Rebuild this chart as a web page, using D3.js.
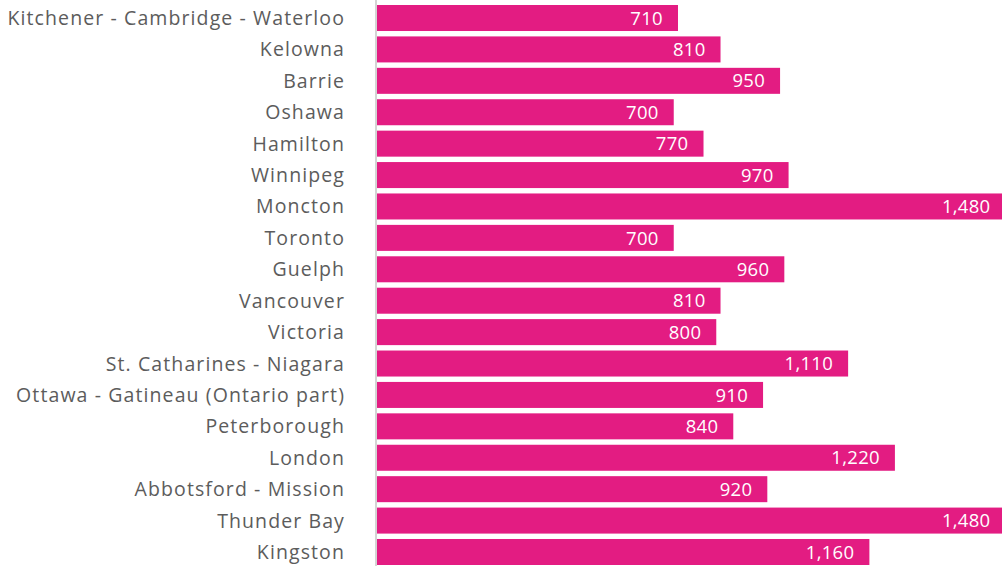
<!DOCTYPE html>
<html>
<head>
<meta charset="utf-8">
<script src="https://cdn.jsdelivr.net/npm/d3@7"></script>
<style>
  body { margin: 0; background: #fff; }
  text { font-family: "Open Sans", sans-serif; }
</style>
</head>
<body>
<div id="chart"></div>
<script>
const cities = [
  "Kitchener - Cambridge - Waterloo", "Kelowna", "Barrie", "Oshawa", "Hamilton",
  "Winnipeg", "Moncton", "Toronto", "Guelph", "Vancouver", "Victoria",
  "St. Catharines - Niagara", "Ottawa - Gatineau (Ontario part)", "Peterborough",
  "London", "Abbotsford - Mission", "Thunder Bay", "Kingston"
];
const values = [710, 810, 950, 700, 770, 970, 1480, 700, 960, 810, 800, 1110, 910, 840, 1220, 920, 1480, 1160];

const width = 1002, height = 566;
const left = 376;

const svg = d3.select("#chart").append("svg")
  .attr("width", width)
  .attr("height", height);

// widest bars run slightly past the right edge
const x = d3.scaleLinear().domain([0, 1480]).range([left, 1005.5]);
const y = d3.scaleBand().domain(cities).range([2.3, 567.7])
  .paddingInner(0.172).paddingOuter(0.086);

const fmt = d3.format(",");

svg.selectAll("rect.bar")
  .data(values)
  .join("rect")
  .attr("class", "bar")
  .attr("x", x(0))
  .attr("y", (d, i) => y(cities[i]))
  .attr("width", d => x(d) - x(0))
  .attr("height", y.bandwidth())
  .attr("fill", "#e31c82");

svg.append("line")
  .attr("x1", left).attr("x2", left)
  .attr("y1", 0).attr("y2", height)
  .attr("stroke", "#d4d4d4")
  .attr("stroke-width", 2);

svg.selectAll("text.city")
  .data(cities)
  .join("text")
  .attr("class", "city")
  .attr("x", 345)
  .attr("y", d => y(d) + y.bandwidth() / 2)
  .attr("dy", "0.36em")
  .attr("text-anchor", "end")
  .attr("fill", "#5c5c5c")
  .style("font-size", "19.5px")
  .style("letter-spacing", "1.1px")
  .text(d => d);

svg.selectAll("text.val")
  .data(values)
  .join("text")
  .attr("class", "val")
  .attr("x", d => x(d) - 15)
  .attr("y", (d, i) => y(cities[i]) + y.bandwidth() / 2)
  .attr("dy", "0.36em")
  .attr("text-anchor", "end")
  .attr("fill", "#fff")
  .style("font-size", "18.5px")
  .style("letter-spacing", "0.3px")
  .text(d => fmt(d));
</script>
</body>
</html>
